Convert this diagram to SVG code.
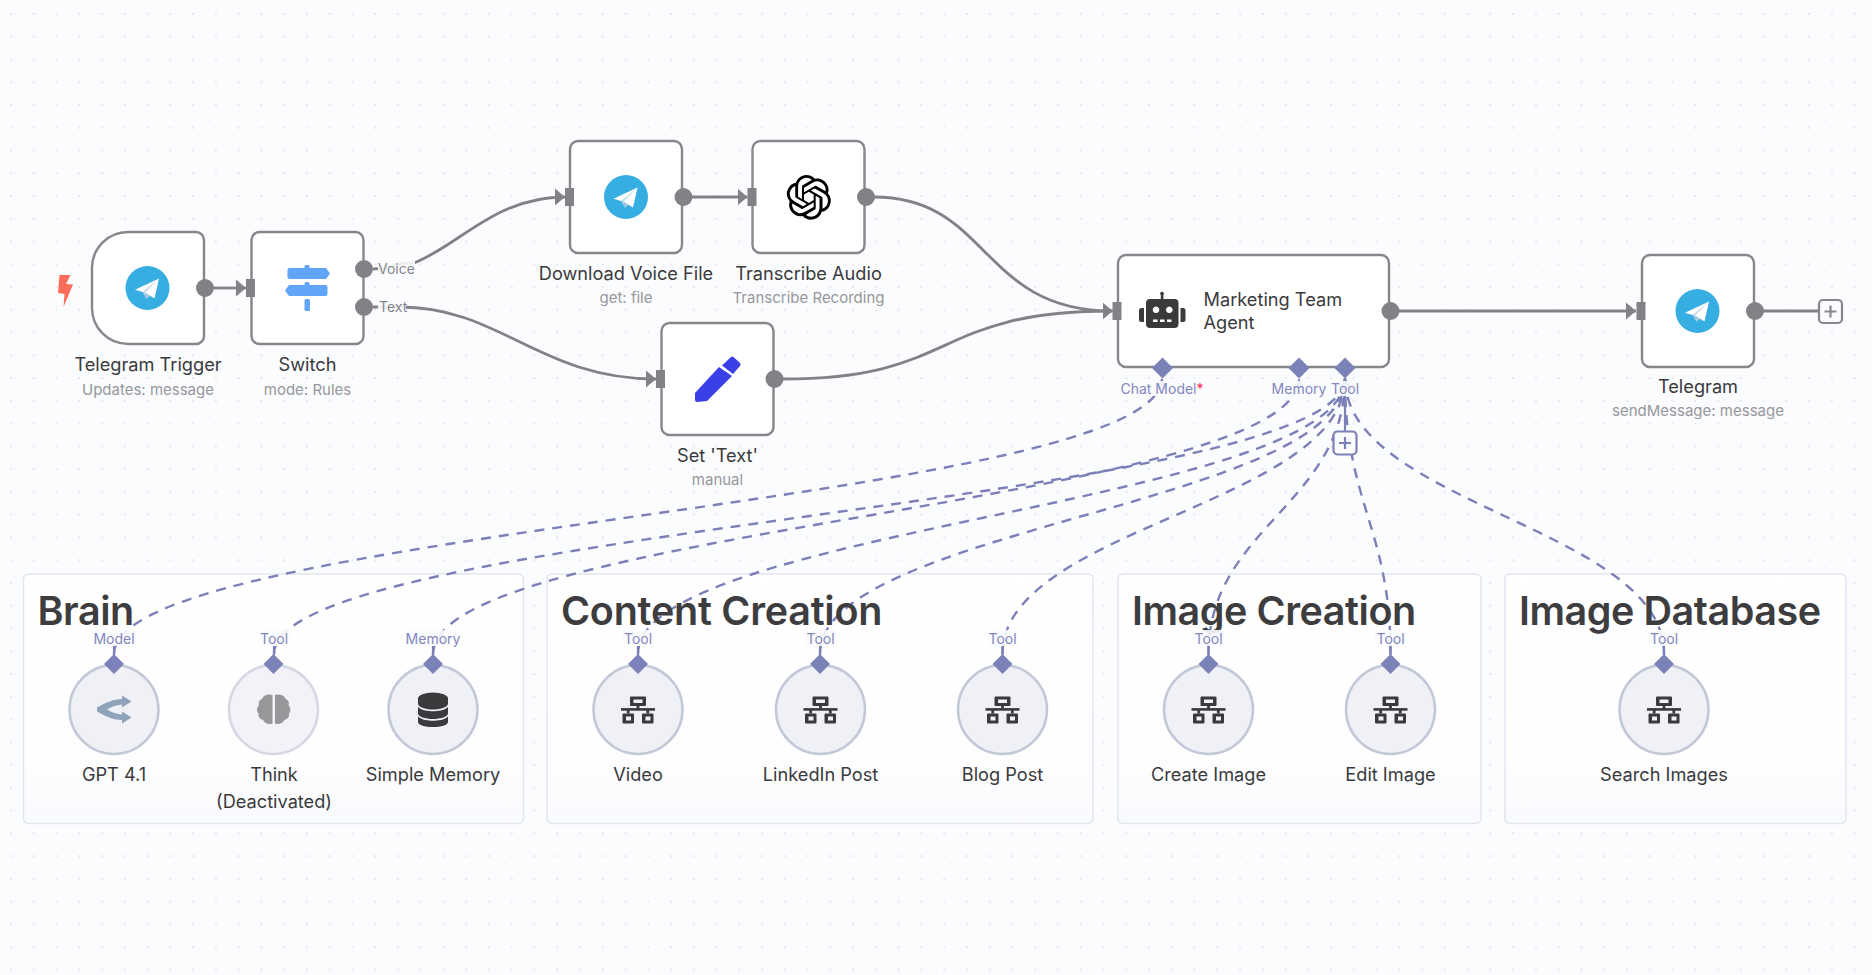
<svg xmlns="http://www.w3.org/2000/svg" xmlns:xlink="http://www.w3.org/1999/xlink" width="1872" height="975" viewBox="0 0 1872 975">
<style>
text{font-family:Inter,"Noto Sans","Liberation Sans",sans-serif}
.box{fill:#fff;stroke:#85878b;stroke-width:2.4}
.t{font-size:18.2px;fill:#3a3a3c;text-anchor:middle}
.s{font-size:15px;fill:#96979b;text-anchor:middle}
.l{font-size:14px;fill:#8187bf;text-anchor:middle}
.g{font-size:14px;fill:#85878b}
.gt{font-size:39.5px;font-weight:600;fill:#3d3d40;letter-spacing:-.45px}
.grp{fill:url(#gf);stroke:#e3e5ef;stroke-width:1.5}
.c{fill:#f0f0f7;stroke:#c3c8d8;stroke-width:2.5}
.in,.out{fill:#808285}
.d{fill:#7b82b8}
.w{fill:none;stroke:#808285;stroke-width:2.8}
.dash{fill:none;stroke:#7b80b8;stroke-width:2.4;stroke-dasharray:10 8}
.solid{fill:none;stroke:#7b80b8;stroke-width:2.2}
.mask{fill:#fbfcfe;opacity:.9}
.ic{fill:#3a3a3c}
</style>
<defs>
<pattern id="dots" patternUnits="userSpaceOnUse" width="22.76" height="22.76" x="0" y="3">
<circle cx="11" cy="11" r=".8" fill="#cfd1da"/>
</pattern>
<linearGradient id="gf" x1="0" y1="0" x2="0" y2="1">
<stop offset="0" stop-color="#fff"/><stop offset=".75" stop-color="#fefeff"/><stop offset="1" stop-color="#f9fafd"/>
</linearGradient>
<marker id="ah" markerUnits="userSpaceOnUse" markerWidth="11" markerHeight="18" refX="10" refY="9" orient="auto"><path d="M0,0.5 L10,9 L0,17.5Z" fill="#808285"/></marker>
<marker id="ap" markerUnits="userSpaceOnUse" markerWidth="12" markerHeight="10" refX="10" refY="5" orient="auto"><path d="M0,0 L10,5 L0,10Z" fill="#7b82b8"/></marker>
<symbol id="tg" viewBox="-22 -22 44 44" overflow="visible">
<circle r="22" fill="#37aee2"/>
<path d="M-12.5,1.8 L11.5,-9.5 L7,10.5 L-2.5,4.8Z" fill="#fff"/>
<path d="M-4.8,3.8 L11.5,-9.5 L-2.5,4.8 L-1,11Z" fill="#c8daea"/>
<path d="M-2.5,4.8 L-1,11 L2.5,7.8Z" fill="#a9c9dd"/>
</symbol>
<symbol id="net" viewBox="0 0 34 27" overflow="visible">
<g fill="#3a3a3c">
<path fill-rule="evenodd" d="M10,0 h14 a1,1 0 0 1 1,1 v7.5 a1,1 0 0 1 -1,1 h-14 a1,1 0 0 1 -1,-1 v-7.5 a1,1 0 0 1 1,-1z M12.5,3 v3.5 h9 v-3.5z"/>
<rect x="15.6" y="9" width="2.8" height="4"/>
<rect x="0" y="11.6" width="34" height="2.6"/>
<rect x="5.8" y="13" width="2.8" height="4"/><rect x="25.4" y="13" width="2.8" height="4"/>
<path fill-rule="evenodd" d="M2.5,17 h9.5 a1,1 0 0 1 1,1 v8 a1,1 0 0 1 -1,1 h-9.5 a1,1 0 0 1 -1,-1 v-8 a1,1 0 0 1 1,-1z M5,20 v4 h5 v-4z"/>
<path fill-rule="evenodd" d="M22,17 h9.5 a1,1 0 0 1 1,1 v8 a1,1 0 0 1 -1,1 h-9.5 a1,1 0 0 1 -1,-1 v-8 a1,1 0 0 1 1,-1z M24.5,20 v4 h5 v-4z"/>
</g>
</symbol>
</defs>

<rect width="1872" height="975" fill="#fbfcfe"/>
<rect width="1872" height="975" fill="url(#dots)"/>

<g id="group-boxes">
<rect class="grp" x="23.5" y="574" width="500" height="249.5" rx="5"/>
<rect class="grp" x="547" y="574" width="546" height="249.5" rx="5"/>
<rect class="grp" x="1118" y="574" width="363" height="249.5" rx="5"/>
<rect class="grp" x="1505" y="574" width="341" height="249.5" rx="5"/>
</g>

<g id="connectors">
<path class="w" marker-end="url(#ah)" d="M214,288 L246,288"/>
<path class="w" marker-end="url(#ah)" d="M373,269 C400,269 385,263 414,263 C460,245 495,197 565,197" />
<path class="w" marker-end="url(#ah)" d="M373,307 L400,307 C500,307 540,379 656,379"/>
<path class="w" marker-end="url(#ah)" d="M692,197 L747.5,197"/>
<path class="w" marker-end="url(#ah)" d="M874,197 C990,197 980,311 1112.5,311"/>
<path class="w" marker-end="url(#ah)" d="M783,379 C960,379 930,311 1112.5,311"/>
<path class="w" marker-end="url(#ah)" d="M1399,311 L1636,311"/>
<path class="w" d="M1763,311 L1818,311"/>

<path class="dash" marker-end="url(#ap)" d="M114,654 C114,528 1162,504 1162,378"/>
<path class="dash" marker-end="url(#ap)" d="M274,654 C274,528 1345,504 1345,378"/>
<path class="dash" marker-end="url(#ap)" d="M433,654 C433,528 1299,504 1299,378"/>
<path class="dash" marker-end="url(#ap)" d="M638,654 C638,528 1345,504 1345,378"/>
<path class="dash" marker-end="url(#ap)" d="M820,654 C820,528 1345,504 1345,378"/>
<path class="dash" marker-end="url(#ap)" d="M1002.5,654 C1002.5,528 1345,504 1345,378"/>
<path class="dash" marker-end="url(#ap)" d="M1208.5,654 C1208.5,528 1345,504 1345,378"/>
<path class="dash" marker-end="url(#ap)" d="M1390.5,654 C1390.5,528 1345,504 1345,378"/>
<path class="dash" marker-end="url(#ap)" d="M1664,654 C1664,528 1345,504 1345,378"/>
<path class="solid" marker-end="url(#ap)" d="M1345,431 L1345,378"/>
</g>

<g id="group-titles">
<text class="gt" x="37.5" y="625">Brain</text>
<text class="gt" x="561" y="625" style="letter-spacing:-.25px">Content Creation</text>
<text class="gt" x="1132" y="625">Image Creation</text>
<text class="gt" x="1519" y="625">Image Database</text>
</g>

<g id="node-trigger">
<path d="M66.5,268 l11,0 l-4.5,9 l7,0.5 l-9.5,22.5 l1,-13 l-6.5,-1z" fill="#ff6d5a" transform="translate(-7,7)"/>
<path class="box" d="M128,232 H196 a8,8 0 0 1 8,8 V336 a8,8 0 0 1 -8,8 H128 a36,36 0 0 1 -36,-36 V268 a36,36 0 0 1 36,-36z"/>
<use href="#tg" x="125.5" y="266" width="44" height="44"/>
<circle class="out" cx="205" cy="288" r="9"/>
<text class="t" x="148" y="370.5">Telegram Trigger</text>
<text class="s" x="148" y="394.5">Updates: message</text>
</g>

<g id="node-switch">
<rect class="box" x="251.5" y="232" width="112" height="112" rx="8"/>
<rect class="in" x="246" y="279" width="9" height="18"/>
<g fill="#60a5fa">
<rect x="304.5" y="265" width="5" height="5" rx="1.5"/>
<path d="M287.5,270 a2,2 0 0 1 2,-2 H326 L330,273.5 L326,279 H289.5 a2,2 0 0 1 -2,-2z"/>
<rect x="304.5" y="282" width="5" height="5" rx="1.5"/>
<path d="M327.5,287 a2,2 0 0 0 -2,-2 H289 L285,290.5 L289,296 H325.5 a2,2 0 0 0 2,-2z"/>
<rect x="304.5" y="299" width="5.5" height="12" rx="1.5"/>
</g>
<circle class="out" cx="364" cy="269" r="9"/>
<circle class="out" cx="364" cy="307" r="9"/>
<rect class="mask" x="378" y="260" width="37" height="17"/>
<rect class="mask" x="378" y="298" width="28" height="17"/>
<text class="g" x="378" y="274">Voice</text>
<text class="g" x="379" y="312">Text</text>
<text class="t" x="307.5" y="370.5">Switch</text>
<text class="s" x="307.5" y="394.5">mode: Rules</text>
</g>

<g id="node-download">
<rect class="box" x="570" y="141" width="112" height="112" rx="8"/>
<rect class="in" x="565" y="188" width="9" height="18"/>
<use href="#tg" x="604" y="175" width="44" height="44"/>
<circle class="out" cx="683.5" cy="197" r="9"/>
<text class="t" x="626" y="279.5">Download Voice File</text>
<text class="s" x="626" y="302.5">get: file</text>
</g>

<g id="node-transcribe">
<rect class="box" x="752.5" y="141" width="112" height="112" rx="8"/>
<rect class="in" x="747.5" y="188" width="9" height="18"/>
<path transform="translate(786.5,175) scale(1.86)" fill="#000" d="M22.2819 9.8211a5.9847 5.9847 0 0 0-.5157-4.9108 6.0462 6.0462 0 0 0-6.5098-2.9A6.0651 6.0651 0 0 0 4.9807 4.1818a5.9847 5.9847 0 0 0-3.9977 2.9 6.0462 6.0462 0 0 0 .7427 7.0966 5.98 5.98 0 0 0 .511 4.9107 6.051 6.051 0 0 0 6.5146 2.9001A5.9847 5.9847 0 0 0 13.2599 24a6.0557 6.0557 0 0 0 5.7718-4.2058 5.9894 5.9894 0 0 0 3.9977-2.9001 6.0557 6.0557 0 0 0-.7475-7.0729zm-9.022 12.6081a4.4755 4.4755 0 0 1-2.8764-1.0408l.1419-.0804 4.7783-2.7582a.7948.7948 0 0 0 .3927-.6813v-6.7369l2.02 1.1686a.071.071 0 0 1 .038.052v5.5826a4.504 4.504 0 0 1-4.4945 4.4944zm-9.6607-4.1254a4.4708 4.4708 0 0 1-.5346-3.0137l.142.0852 4.783 2.7582a.7712.7712 0 0 0 .7806 0l5.8428-3.3685v2.3324a.0804.0804 0 0 1-.0332.0615L9.74 19.9502a4.4992 4.4992 0 0 1-6.1408-1.6464zM2.3408 7.8956a4.485 4.485 0 0 1 2.3655-1.9728V11.6a.7664.7664 0 0 0 .3879.6765l5.8144 3.3543-2.0201 1.1685a.0757.0757 0 0 1-.071 0l-4.8303-2.7865A4.504 4.504 0 0 1 2.3408 7.872zm16.5963 3.8558L13.1038 8.364 15.1192 7.2a.0757.0757 0 0 1 .071 0l4.8303 2.7913a4.4944 4.4944 0 0 1-.6765 8.1042v-5.6772a.79.79 0 0 0-.407-.667zm2.0107-3.0231l-.142-.0852-4.7735-2.7818a.7759.7759 0 0 0-.7854 0L9.409 9.2297V6.8974a.0662.0662 0 0 1 .0284-.0615l4.8303-2.7866a4.4992 4.4992 0 0 1 6.6802 4.66zM8.3065 12.863l-2.02-1.1638a.0804.0804 0 0 1-.038-.0567V6.0742a4.4992 4.4992 0 0 1 7.3757-3.4537l-.142.0805L8.704 5.459a.7948.7948 0 0 0-.3927.6813zm1.0976-2.3654l2.602-1.4998 2.6069 1.4998v2.9994l-2.5974 1.4997-2.6067-1.4997Z"/>
<circle class="out" cx="866" cy="197" r="9"/>
<text class="t" x="808.5" y="279.5">Transcribe Audio</text>
<text class="s" x="808.5" y="302.5">Transcribe Recording</text>
</g>

<g id="node-set">
<rect class="box" x="661.5" y="323" width="112" height="112" rx="8"/>
<rect class="in" x="656" y="370" width="9" height="18"/>
<g fill="#3b3fe8">
<path d="M719,367 L732,376 L707,401 L697,402 a2,2 0 0 1 -2,-2 L695,393z"/>
<path d="M722,365.5 L731,357 a2,2 0 0 1 2.5,0 L739.5,362.5 a2.5,2.5 0 0 1 0,4 L733,374z"/>
</g>
<circle class="out" cx="774.5" cy="379" r="9"/>
<text class="t" x="717.5" y="461.5">Set 'Text'</text>
<text class="s" x="717.5" y="485">manual</text>
</g>

<g id="node-agent">
<rect class="box" x="1118" y="255" width="271" height="112" rx="8"/>
<rect class="in" x="1112.5" y="302" width="9" height="18"/>
<g class="ic">
<rect x="1160.8" y="293" width="2.6" height="7"/><circle cx="1162" cy="293.5" r="1.8"/>
<path fill-rule="evenodd" d="M1150,299 h24.5 a4,4 0 0 1 4,4 v21 a4,4 0 0 1 -4,4 h-24.5 a4,4 0 0 1 -4,-4 v-21 a4,4 0 0 1 4,-4z M1156,306.5 a3.3,3.3 0 1 0 .01,0z M1169.3,306.5 a3.3,3.3 0 1 0 .01,0z M1153,319.5 v2.5 h4.5 v-2.5z M1160,319.5 v2.5 h4.5 v-2.5z M1167,319.5 v2.5 h4.5 v-2.5z"/>
<path d="M1144,308 v14 h-2.5 a2.5,2.5 0 0 1 -2.5,-2.5 v-9 a2.5,2.5 0 0 1 2.5,-2.5z"/>
<path d="M1180.5,308 v14 h2.5 a2.5,2.5 0 0 0 2.5,-2.5 v-9 a2.5,2.5 0 0 0 -2.5,-2.5z"/>
</g>
<text style="font-size:18.2px;fill:#3a3a3c" x="1203.5" y="305.5">Marketing Team</text>
<text style="font-size:18.2px;fill:#3a3a3c" x="1203.5" y="328.5">Agent</text>
<circle class="out" cx="1390.5" cy="311" r="9"/>
<rect class="mask" x="1120" y="381" width="84" height="15"/>
<rect class="mask" x="1271" y="381" width="56" height="15"/>
<rect class="mask" x="1331" y="381" width="28" height="15"/>
<path class="d" d="M1162.5,357.5 L1173,368 L1162.5,378.5 L1152,368z"/>
<path class="d" d="M1299,357.5 L1309.5,368 L1299,378.5 L1288.5,368z"/>
<path class="d" d="M1345,357.5 L1355.5,368 L1345,378.5 L1334.5,368z"/>
<text class="l" x="1162" y="393.5">Chat Model<tspan fill="#ff2450">*</tspan></text>
<text class="l" x="1299" y="393.5">Memory</text>
<text class="l" x="1345" y="393.5">Tool</text>
</g>

<g id="add-tool">
<rect x="1333.5" y="431.5" width="23" height="23" rx="4" fill="#fbfcfe" stroke="#7b80b8" stroke-width="2.2"/>
<path d="M1339,443 H1351 M1345,437 V449" stroke="#7b80b8" stroke-width="2.2" fill="none"/>
</g>

<g id="node-telegram">
<rect class="box" x="1642" y="255" width="112" height="112" rx="8"/>
<rect class="in" x="1636.5" y="302" width="9" height="18"/>
<use href="#tg" x="1675.5" y="289" width="44" height="44"/>
<circle class="out" cx="1755" cy="311" r="9"/>
<text class="t" x="1698" y="392.5">Telegram</text>
<text class="s" x="1698" y="416">sendMessage: message</text>
</g>

<g id="add-main">
<rect x="1819" y="300" width="23" height="23" rx="4" fill="#fbfcfe" stroke="#85878b" stroke-width="2.2"/>
<path d="M1824.5,311.5 H1836.5 M1830.5,305.5 V317.5" stroke="#85878b" stroke-width="2.2" fill="none"/>
</g>

<g id="node-gpt">
<rect class="mask" x="92" y="630" width="44" height="16"/>
<path class="solid" d="M114,646 V655"/>
<circle class="c" cx="114" cy="709.5" r="44.5"/>
<path class="d" d="M114,654 L124,664 L114,674 L104,664z"/>
<g fill="#8fa3ba">
<path d="M97,707.5 C106,702.5 114,699 122,699 L122,695.5 L131.5,701.5 L122,707.5 L122,704.5 C116,705 111,707 107,709.5 C111,712 116,714 122,714.5 L122,711.5 L131.5,717.5 L122,723.5 L122,720 C114,720 106,716.5 97,711.5z"/>
</g>
<text class="l" x="114" y="643.5">Model</text>
<text class="t" x="114" y="780.5">GPT 4.1</text>
</g>

<g id="node-think">
<rect class="mask" x="258" y="630" width="32" height="16"/>
<path class="solid" d="M274,646 V655"/>
<circle class="c" cx="273.5" cy="709.5" r="44.5" style="stroke:#d5d8e4;fill:#f2f2f8"/>
<path class="d" d="M273.5,654 L283.5,664 L273.5,674 L263.5,664z"/>
<g fill="#979799">
<path d="M272.5,695 C268,693.5 263,695 262,699 C259,700 258,703 259,705.5 C256.5,707.5 256.5,711 258.5,713.5 C258,717 260,719.5 263,719.8 C264,723 268.5,725 272.5,723.5z"/>
<path d="M275,695 C279.5,693.5 284.5,695 285.5,699 C288.5,700 289.5,703 288.5,705.5 C291,707.5 291,711 289,713.5 C289.5,717 287.5,719.5 284.5,719.8 C283.5,723 279,725 275,723.5z"/>
</g>
<text class="l" x="274" y="643.5">Tool</text>
<text class="t" x="274" y="780.5">Think</text>
<text class="t" x="274" y="807.5">(Deactivated)</text>
</g>

<g id="node-memory">
<rect class="mask" x="405" y="630" width="56" height="16"/>
<path class="solid" d="M433,646 V655"/>
<circle class="c" cx="433" cy="709.5" r="44.5"/>
<path class="d" d="M433,654 L443,664 L433,674 L423,664z"/>
<g class="ic">
<ellipse cx="433" cy="698.5" rx="15" ry="6"/>
<path d="M418,698.5 V703.5 C418,707 425,709.5 433,709.5 C441,709.5 448,707 448,703.5 V698.5z"/>
<path d="M418,707 V713.5 C418,716.5 425,719 433,719 C441,719 448,716.5 448,713.5 V707 C444,710.5 438,711.3 433,711.3 C428,711.3 422,710.5 418,707z"/>
<path d="M418,716.5 V722 C418,725 425,727 433,727 C441,727 448,725 448,722 V716.5 C444,720 438,720.8 433,720.8 C428,720.8 422,720 418,716.5z"/>
</g>
<text class="l" x="433" y="643.5">Memory</text>
<text class="t" x="433" y="780.5">Simple Memory</text>
</g>

<g id="node-video">
<rect class="mask" x="622" y="630" width="32" height="16"/>
<path class="solid" d="M638,646 V655"/>
<circle class="c" cx="638" cy="709.5" r="44.5"/>
<path class="d" d="M638,654 L648,664 L638,674 L628,664z"/>
<use href="#net" x="621" y="696.5" width="34" height="27"/>
<text class="l" x="638" y="643.5">Tool</text>
<text class="t" x="638" y="780.5">Video</text>
</g>

<g id="node-linkedin">
<rect class="mask" x="804" y="630" width="32" height="16"/>
<path class="solid" d="M820,646 V655"/>
<circle class="c" cx="820.5" cy="709.5" r="44.5"/>
<path class="d" d="M820,654 L830,664 L820,674 L810,664z"/>
<use href="#net" x="803.5" y="696.5" width="34" height="27"/>
<text class="l" x="820.5" y="643.5">Tool</text>
<text class="t" x="820.5" y="780.5">LinkedIn Post</text>
</g>

<g id="node-blog">
<rect class="mask" x="986" y="630" width="32" height="16"/>
<path class="solid" d="M1002.5,646 V655"/>
<circle class="c" cx="1002.5" cy="709.5" r="44.5"/>
<path class="d" d="M1002.5,654 L1012.5,664 L1002.5,674 L992.5,664z"/>
<use href="#net" x="985.5" y="696.5" width="34" height="27"/>
<text class="l" x="1002.5" y="643.5">Tool</text>
<text class="t" x="1002.5" y="780.5">Blog Post</text>
</g>

<g id="node-create">
<rect class="mask" x="1192" y="630" width="32" height="16"/>
<path class="solid" d="M1208.5,646 V655"/>
<circle class="c" cx="1208.5" cy="709.5" r="44.5"/>
<path class="d" d="M1208.5,654 L1218.5,664 L1208.5,674 L1198.5,664z"/>
<use href="#net" x="1191.5" y="696.5" width="34" height="27"/>
<text class="l" x="1208.5" y="643.5">Tool</text>
<text class="t" x="1208.5" y="780.5">Create Image</text>
</g>

<g id="node-edit">
<rect class="mask" x="1374" y="630" width="32" height="16"/>
<path class="solid" d="M1390.5,646 V655"/>
<circle class="c" cx="1390.5" cy="709.5" r="44.5"/>
<path class="d" d="M1390.5,654 L1400.5,664 L1390.5,674 L1380.5,664z"/>
<use href="#net" x="1373.5" y="696.5" width="34" height="27"/>
<text class="l" x="1390.5" y="643.5">Tool</text>
<text class="t" x="1390.5" y="780.5">Edit Image</text>
</g>

<g id="node-search">
<rect class="mask" x="1648" y="630" width="32" height="16"/>
<path class="solid" d="M1664,646 V655"/>
<circle class="c" cx="1664" cy="709.5" r="44.5"/>
<path class="d" d="M1664,654 L1674,664 L1664,674 L1654,664z"/>
<use href="#net" x="1647" y="696.5" width="34" height="27"/>
<text class="l" x="1664" y="643.5">Tool</text>
<text class="t" x="1664" y="780.5">Search Images</text>
</g>
</svg>
